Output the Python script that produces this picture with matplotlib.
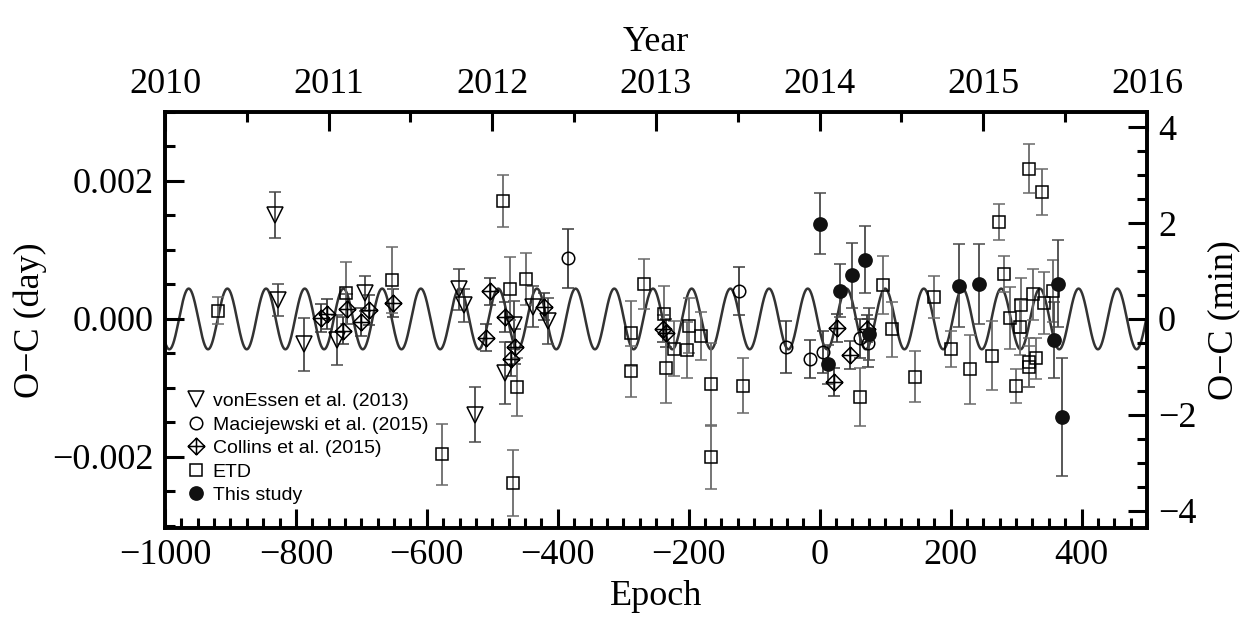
import numpy as np
import matplotlib
matplotlib.use("Agg")
import matplotlib.pyplot as plt
from matplotlib.path import Path
from matplotlib.lines import Line2D
from matplotlib.ticker import MultipleLocator, FuncFormatter

# O-C data: (epoch, O-C [day], error [day])
vonessen_epoch = [-832, -827, -788, -738, -694, -551, -544, -526, -481, -467, -438, -415]
vonessen_oc = [0.00151, 0.000275, -0.00037, -0.00031, 0.00037, 0.00043, 0.0002, -0.00139,
               -0.00078, -0.00009, 0.00018, -0.00003]
vonessen_err = [0.00033, 0.00023, 0.00038, 0.00036, 0.00025, 0.0003, 0.00024, 0.0004,
                0.00045, 0.00035, 0.0003, 0.00033]

maciej_epoch = [-385, -123, -51, -14, 5, 62, 74]
maciej_oc = [0.00088, 0.0004, -0.00041, -0.00058, -0.00048, -0.00028, -0.00035]
maciej_err = [0.00043, 0.00035, 0.00038, 0.00028, 0.0003, 0.00028, 0.00035]

collins_epoch = [-761, -752, -728, -722, -701, -689, -651, -510, -504, -480, -466, -472,
                 -421, -240, -235, 22, 27, 46, 72]
collins_oc = [0.00001, 0.00007, -0.00017, 0.00014, -0.00004, 0.00013, 0.00023, -0.00027,
              0.0004, 0.00003, -0.0004, -0.00058, 0.00018, -0.00014, -0.0002, -0.00091,
              -0.00013, -0.00052, -0.00014]
collins_err = [0.0002, 0.00022, 0.0002, 0.00022, 0.0002, 0.00022, 0.0002, 0.0002, 0.0002,
               0.00022, 0.00025, 0.00025, 0.0002, 0.0002, 0.0002, 0.0002, 0.0002, 0.0002,
               0.0002]

etd_epoch = [-919, -724, -653, -577, -484, -473, -463, -468, -449, -288, -288, -268,
             -237, -235, -222, -200, -202, -181, -166, -166, -117, 62, 96, 110, 146,
             175, 200, 230, 263, 274, 282, 291, 300, 307, 306, 320, 320, 320, 326,
             331, 339, 342, 357]
etd_oc = [0.00012, 0.00038, 0.00056, -0.00196, 0.00171, 0.00044, -0.00098, -0.00238,
          0.00058, -0.00021, -0.00076, 0.00051, 0.00007, -0.00071, -0.00043, -0.0001,
          -0.00045, -0.00025, -0.00095, -0.002, -0.00097, -0.00113, 0.00049, -0.00015,
          -0.00084, 0.00032, -0.00044, -0.00073, -0.00053, 0.0014, 0.00065, 0.00002,
          -0.00097, 0.0002, -0.00012, 0.00218, -0.00063, -0.00069, 0.00036, -0.00057,
          0.00184, 0.00023, 0.00041]
etd_err = [0.0002, 0.00045, 0.00048, 0.00044, 0.00038, 0.00046, 0.00042, 0.00048,
           0.00038, 0.00047, 0.00037, 0.00036, 0.00041, 0.00051, 0.0004, 0.0004, 0.0004,
           0.00035, 0.0006, 0.00046, 0.0004, 0.00042, 0.00042, 0.0004, 0.00037, 0.0003,
           0.00026, 0.0005, 0.0005, 0.00026, 0.00026, 0.00045, 0.00025, 0.0004, 0.0004,
           0.00035, 0.00035, 0.0003, 0.00037, 0.0003, 0.00033, 0.00045, 0.00045]

study_epoch = [0.5, 12.5, 31, 50, 69, 76, 213, 243, 358, 364, 370]
study_oc = [0.00138, -0.00066, 0.00041, 0.00063, 0.00086, -0.00022, 0.00048, 0.0005,
            -0.0003, 0.00051, -0.00142]
study_err = [0.00044, 0.00028, 0.00038, 0.00047, 0.00048, 0.00038, 0.0006, 0.00058,
             0.00055, 0.00063, 0.00085]

# sinusoidal TTV model
model_amp = 0.00044
model_period = 59.1
model_peak = 100.0

year_ticks = [2010, 2011, 2012, 2013, 2014, 2015, 2016]


def minus(value, fmt):
    return (fmt % value).replace("-", "\u2212")


def style_ticks(axis):
    axis.tick_params(which="both", direction="in", labelsize=26, width=2.2, pad=8)
    axis.tick_params(which="major", length=14)
    axis.tick_params(which="minor", length=7)


def main():
    plt.rcParams["font.family"] = ["Liberation Serif", "DejaVu Serif"]

    fig = plt.figure(figsize=(12.47, 6.2), dpi=100)
    ax = fig.add_axes([0.1323, 0.1484, 0.7875, 0.671])

    epoch = np.linspace(-1000, 500, 3000)
    model = model_amp * np.cos(2 * np.pi * (epoch - model_peak) / model_period)
    ax.plot(epoch, model, color="#333333", lw=1.8, zorder=1)

    # diamond with a cross inside
    verts = [(0, 1), (1, 0), (0, -1), (-1, 0), (0, 1), (0, 1), (0, -1), (-1, 0), (1, 0)]
    codes = [Path.MOVETO, Path.LINETO, Path.LINETO, Path.LINETO, Path.CLOSEPOLY,
             Path.MOVETO, Path.LINETO, Path.MOVETO, Path.LINETO]
    diamond_cross = Path(verts, codes)

    series = [
        (vonessen_epoch, vonessen_oc, vonessen_err, "v", 12, "none", "#4a4a4a",
         "vonEssen et al. (2013)"),
        (maciej_epoch, maciej_oc, maciej_err, "o", 9, "none", "#3a3a3a",
         "Maciejewski et al. (2015)"),
        (collins_epoch, collins_oc, collins_err, diamond_cross, 12, "none", "#3a3a3a",
         "Collins et al. (2015)"),
        (etd_epoch, etd_oc, etd_err, "s", 9, "none", "#6a6a6a", "ETD"),
        (study_epoch, study_oc, study_err, "o", 9.5, "#111111", "#4a4a4a", "This study"),
    ]

    handles = []
    for x, y, e, mk, ms, fc, ec, label in series:
        mec = "#111111" if fc != "none" else "black"
        ax.errorbar(x, y, yerr=e, ls="none", ecolor=ec, elinewidth=1.3, capsize=4.5,
                    capthick=1.3, marker=mk, ms=ms, mfc=fc, mec=mec, mew=1.1, zorder=2)
        handles.append(Line2D([], [], ls="none", marker=mk, ms=ms, mfc=fc, mec=mec,
                              mew=1.1, label=label))

    ax.set_xlim(-1000, 500)
    ax.set_ylim(-0.00303, 0.003)
    ax.xaxis.set_major_locator(MultipleLocator(200))
    ax.xaxis.set_minor_locator(MultipleLocator(25))
    ax.yaxis.set_major_locator(MultipleLocator(0.002))
    ax.yaxis.set_minor_locator(MultipleLocator(0.0005))
    ax.xaxis.set_major_formatter(FuncFormatter(lambda v, p: minus(v, "%d")))
    ax.yaxis.set_major_formatter(FuncFormatter(lambda v, p: minus(v, "%.3f")))
    style_ticks(ax)
    for s in ax.spines.values():
        s.set_linewidth(2.6)
    ax.set_xlabel("Epoch", fontsize=26, labelpad=6)
    ax.set_ylabel("O\u2212C (day)", fontsize=26, labelpad=4)

    # right axis in minutes
    axr = ax.twinx()
    axr.set_ylim(ax.get_ylim()[0] * 1440, ax.get_ylim()[1] * 1440)
    axr.yaxis.set_major_locator(MultipleLocator(2))
    axr.yaxis.set_minor_locator(MultipleLocator(0.5))
    axr.yaxis.set_major_formatter(FuncFormatter(lambda v, p: minus(v, "%d")))
    style_ticks(axr)
    axr.set_ylabel("O\u2212C (min)", fontsize=26, labelpad=8)
    for s in axr.spines.values():
        s.set_linewidth(2.6)

    # top axis in years
    top = ax.secondary_xaxis("top", functions=(lambda e: 2010 + (e + 1000) / 250.0,
                                               lambda yr: (yr - 2010) * 250.0 - 1000))
    top.set_xticks(year_ticks)
    top.xaxis.set_minor_locator(MultipleLocator(0.5))
    style_ticks(top)
    top.set_xlabel("Year", fontsize=26, labelpad=12)

    ax.legend(handles=handles, loc="lower left", bbox_to_anchor=(0.005, 0.025),
              frameon=False, prop={"family": "Liberation Sans", "size": 14},
              handletextpad=0.2, labelspacing=0.3, handlelength=1.3,
              borderaxespad=0.3)

    fig.savefig("out.png", dpi=100)


if __name__ == "__main__":
    main()
